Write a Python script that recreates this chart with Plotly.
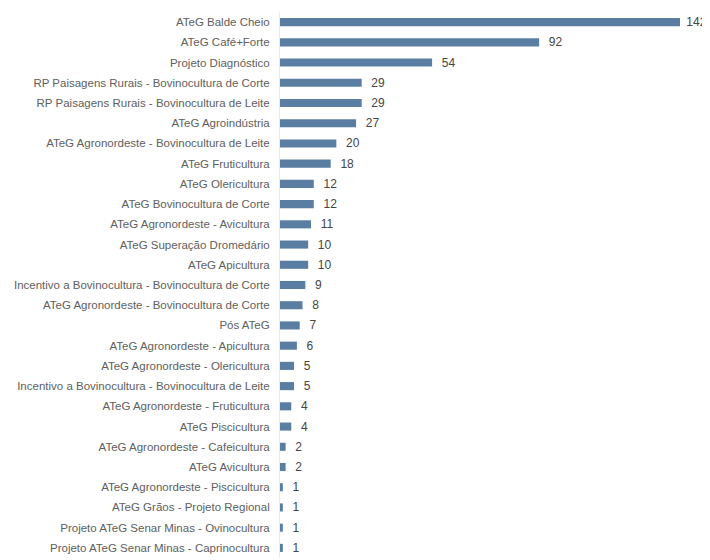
import plotly.graph_objects as go

categories = [
    "ATeG Balde Cheio",
    "ATeG Café+Forte",
    "Projeto Diagnóstico",
    "RP Paisagens Rurais - Bovinocultura de Corte",
    "RP Paisagens Rurais - Bovinocultura de Leite",
    "ATeG Agroindústria",
    "ATeG Agronordeste - Bovinocultura de Leite",
    "ATeG Fruticultura",
    "ATeG Olericultura",
    "ATeG Bovinocultura de Corte",
    "ATeG Agronordeste - Avicultura",
    "ATeG Superação Dromedário",
    "ATeG Apicultura",
    "Incentivo a Bovinocultura - Bovinocultura de Corte",
    "ATeG Agronordeste - Bovinocultura de Corte",
    "Pós ATeG",
    "ATeG Agronordeste - Apicultura",
    "ATeG Agronordeste - Olericultura",
    "Incentivo a Bovinocultura - Bovinocultura de Leite",
    "ATeG Agronordeste - Fruticultura",
    "ATeG Piscicultura",
    "ATeG Agronordeste - Cafeicultura",
    "ATeG Avicultura",
    "ATeG Agronordeste - Piscicultura",
    "ATeG Grãos - Projeto Regional",
    "Projeto ATeG Senar Minas - Ovinocultura",
    "Projeto ATeG Senar Minas - Caprinocultura",
]
values = [142, 92, 54, 29, 29, 27, 20, 18, 12, 12, 11, 10, 10, 9, 8, 7, 6, 5, 5, 4, 4, 2, 2, 1, 1, 1, 1]

labels = [(" " if v >= 100 else "  ") + str(v) for v in values]

fig = go.Figure(go.Bar(
    x=values,
    y=categories,
    orientation="h",
    width=0.4,
    marker=dict(color="#5A7EA2", line=dict(width=0)),
    text=labels,
    textposition="outside",
    constraintext="none",
    cliponaxis=False,
    textfont=dict(family="Liberation Sans, Arial, sans-serif", size=12, color="#454545"),
))

fig.update_layout(
    width=702, height=552,
    margin=dict(l=272, r=30, t=4, b=2),
    paper_bgcolor="white", plot_bgcolor="white",
    showlegend=False,
    xaxis=dict(range=[0, 142], visible=False, showgrid=False, zeroline=False),
    yaxis=dict(
        autorange="reversed",
        showgrid=False, zeroline=False,
        showline=True, linecolor="#E4EBF2", linewidth=1,
        ticks="", ticklabelstandoff=7,
        tickfont=dict(family="Liberation Sans, Arial, sans-serif", size=11.5, color="#606060"),
    ),
)

fig.write_html("out.html")
